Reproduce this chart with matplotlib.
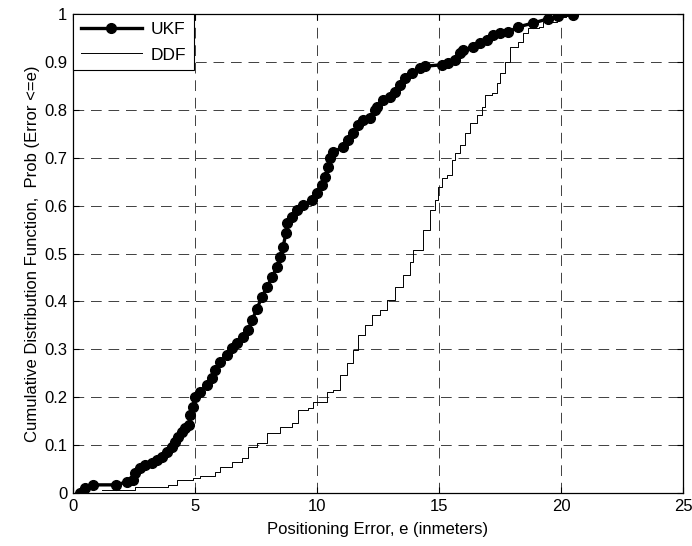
import matplotlib
matplotlib.use("Agg")
import matplotlib.pyplot as plt

# UKF curve (error in m, cumulative probability)
UKF_ERR = [0.29, 0.49, 0.82, 1.76, 2.2, 2.46, 2.54, 2.75, 2.95, 3.24, 3.44, 3.65, 3.85, 4.06,
           4.18, 4.3, 4.47, 4.59, 4.75, 4.8, 4.92, 5.0, 5.2, 5.49, 5.7, 5.82, 6.02, 6.31,
           6.52, 6.72, 6.97, 7.17, 7.34, 7.54, 7.75, 7.95, 8.16, 8.36, 8.48, 8.61, 8.73,
           8.77, 8.98, 9.18, 9.43, 9.8, 10.0, 10.2, 10.33, 10.45, 10.53, 10.66, 11.07,
           11.27, 11.48, 11.68, 11.89, 12.17, 12.38, 12.46, 12.7, 12.99, 13.2, 13.4, 13.61,
           13.89, 14.22, 14.43, 15.12, 15.37, 15.66, 15.86, 15.98, 16.39, 16.68, 16.97,
           17.21, 17.5, 17.83, 18.24, 18.85, 19.47, 19.88, 20.5]
UKF_CDF = [0.0, 0.01, 0.017, 0.017, 0.023, 0.027, 0.042, 0.052, 0.058, 0.062, 0.069, 0.075,
           0.086, 0.096, 0.106, 0.117, 0.127, 0.135, 0.142, 0.163, 0.18, 0.20, 0.211, 0.225,
           0.24, 0.257, 0.274, 0.288, 0.303, 0.313, 0.326, 0.34, 0.361, 0.385, 0.41, 0.43,
           0.451, 0.472, 0.493, 0.514, 0.543, 0.564, 0.576, 0.591, 0.601, 0.612, 0.626,
           0.643, 0.66, 0.681, 0.699, 0.712, 0.722, 0.737, 0.752, 0.768, 0.779, 0.783, 0.80,
           0.806, 0.82, 0.827, 0.837, 0.852, 0.866, 0.877, 0.887, 0.891, 0.894, 0.898,
           0.904, 0.919, 0.925, 0.931, 0.939, 0.946, 0.956, 0.96, 0.962, 0.973, 0.981,
           0.99, 0.996, 0.998]

# DDF curve (step plot)
DDF_ERR = [1.19, 2.54, 3.9, 4.26, 4.92, 5.2, 5.82, 6.02, 6.52, 6.93, 7.17, 7.54, 7.95, 8.48,
           8.98, 9.22, 9.63, 9.84, 10.2, 10.41, 10.66, 10.94, 11.23, 11.48, 11.68, 11.97,
           12.25, 12.58, 12.87, 13.2, 13.52, 13.81, 13.93, 14.34, 14.63, 14.84, 14.96, 15.12,
           15.33, 15.53, 15.66, 15.86, 16.07, 16.27, 16.56, 16.76, 16.89, 17.17, 17.38, 17.5,
           17.7, 17.9, 18.24, 18.44, 18.65, 19.1, 19.26, 19.84, 20.2, 22.5]
DDF_CDF = [0.006, 0.0125, 0.017, 0.027, 0.031, 0.035, 0.044, 0.055, 0.065, 0.073, 0.096,
           0.104, 0.125, 0.138, 0.146, 0.173, 0.177, 0.19, 0.19, 0.211, 0.215, 0.246, 0.271,
           0.299, 0.33, 0.351, 0.372, 0.382, 0.403, 0.43, 0.455, 0.482, 0.507, 0.549, 0.591,
           0.612, 0.639, 0.658, 0.664, 0.695, 0.71, 0.727, 0.752, 0.772, 0.789, 0.806, 0.831,
           0.835, 0.856, 0.877, 0.90, 0.931, 0.942, 0.96, 0.971, 0.973, 0.983, 0.994, 1.0, 1.0]

X_TICKS = [0, 5, 10, 15, 20, 25]
Y_TICKS = [0, 0.1, 0.2, 0.3, 0.4, 0.5, 0.6, 0.7, 0.8, 0.9, 1]

plt.rcParams["font.family"] = ["Liberation Sans", "DejaVu Sans"]

fig = plt.figure(figsize=(6.92, 5.46), dpi=100)
ax = fig.add_axes([73 / 692, 53 / 546, 610 / 692, 479 / 546])

ax.plot(UKF_ERR, UKF_CDF, "-o", color="black", linewidth=2.4, markersize=7, label="UKF", zorder=3)
ax.plot(DDF_ERR, DDF_CDF, color="black", linewidth=0.7, drawstyle="steps-post", label="DDF", zorder=2)

ax.set_xlim(0, 25)
ax.set_ylim(0, 1)
ax.set_xticks(X_TICKS)
ax.set_xticklabels([str(v) for v in X_TICKS])
ax.set_yticks(Y_TICKS)
ax.set_yticklabels([f"{v:g}" for v in Y_TICKS])
ax.tick_params(direction="in", top=True, right=True, length=4, labelsize=12, width=0.8, pad=4)
ax.grid(True, linestyle=(0, (11, 7)), color="black", linewidth=0.7, alpha=0.75)
for spine in ax.spines.values():
    spine.set_linewidth(0.9)

ax.set_xlabel("Positioning Error, e (inmeters)", fontsize=12, labelpad=6)
ax.set_ylabel("Cumulative Distribution Function,  Prob (Error <=e)", fontsize=12, labelpad=3)

leg = ax.legend(loc="upper left", bbox_to_anchor=(0, 1), borderaxespad=0, fancybox=False,
                edgecolor="black", framealpha=1, numpoints=1, handlelength=3.5, fontsize=12.5,
                borderpad=0.45, labelspacing=0.6, handletextpad=0.5)
leg.get_frame().set_linewidth(0.8)

fig.savefig("out.png", dpi=100)
